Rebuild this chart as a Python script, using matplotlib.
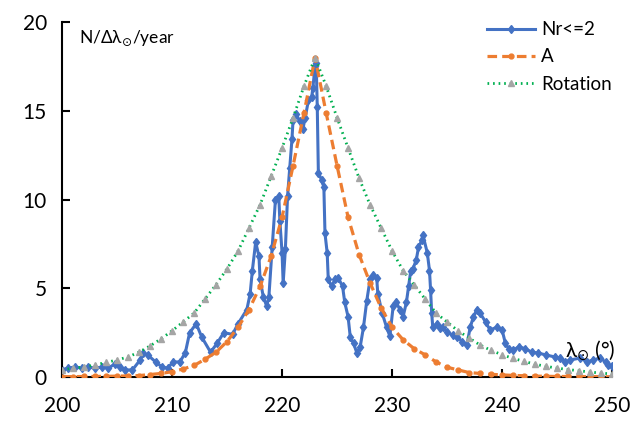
import matplotlib
matplotlib.use("Agg")
import matplotlib.pyplot as plt

plt.rcParams['font.family'] = ['Lato', 'DejaVu Sans']

# --- data ---
nr_lam = [200.0, 200.5, 201.2, 201.8, 202.4, 203.0, 203.6, 204.2, 204.8, 205.3,
          205.7, 206.4, 207.1, 207.4, 207.8, 208.5, 209.1, 209.6, 210.1, 210.7,
          211.2, 211.6, 212.2, 212.7, 213.5, 214.1, 214.7, 215.5, 216.0, 216.8,
          217.1, 217.3, 217.6, 217.9, 218.0, 218.3, 218.6, 218.8, 219.1, 219.4,
          219.7, 219.8, 220.0, 220.1, 220.3, 220.5, 220.7, 220.9, 221.0, 221.3,
          221.6, 221.9, 222.1, 222.4, 222.7, 222.8, 223.0, 223.1, 223.2, 223.3,
          223.6, 223.8, 223.9, 224.1, 224.2, 224.5, 224.8, 225.1, 225.5, 225.7,
          226.0, 226.2, 226.5, 226.8, 227.1, 227.4, 227.7, 228.0, 228.3, 228.6,
          228.7, 229.1, 229.5, 229.8, 230.1, 230.4, 230.7, 231.0, 231.3, 231.5,
          231.7, 231.9, 232.2, 232.4, 232.7, 232.8, 233.2, 233.4, 233.5, 233.6,
          233.7, 234.1, 234.4, 234.6, 235.0, 235.5, 235.9, 236.4, 236.8, 237.1,
          237.4, 237.7, 238.0, 238.5, 238.9, 239.5, 240.0, 240.3, 240.6, 241.0,
          241.5, 242.1, 242.7, 243.3, 244.0, 244.8, 245.3, 245.7, 246.2, 247.1,
          247.7, 248.3, 248.9, 249.4, 249.6, 250.0]
nr_val = [0.40, 0.50, 0.56, 0.50, 0.56, 0.50, 0.56, 0.50, 0.73, 0.56,
          0.40, 0.40, 0.96, 1.35, 1.24, 0.85, 0.56, 0.50, 0.85, 0.85,
          1.35, 2.50, 3.00, 2.25, 1.40, 1.90, 2.50, 2.40, 3.00, 3.80,
          4.70, 6.00, 7.60, 6.80, 5.50, 4.50, 4.00, 4.50, 7.30, 10.0,
          10.2, 8.80, 7.00, 5.30, 7.20, 10.2, 11.8, 13.4, 14.5, 14.8,
          14.4, 14.0, 14.6, 15.6, 15.8, 16.3, 17.5, 17.7, 15.2, 11.5,
          11.1, 10.7, 8.10, 7.00, 5.50, 5.10, 5.50, 5.60, 5.10, 4.20,
          3.40, 2.25, 1.90, 1.35, 1.70, 2.80, 4.30, 5.50, 5.75, 5.60,
          4.70, 3.60, 2.80, 2.30, 4.00, 4.20, 3.80, 3.40, 4.20, 5.10,
          6.00, 6.10, 6.60, 7.30, 7.70, 8.00, 7.00, 6.00, 4.90, 3.60,
          2.80, 3.00, 2.75, 2.80, 2.55, 2.35, 2.25, 2.00, 1.80, 2.80,
          3.40, 3.80, 3.60, 3.10, 2.65, 2.80, 2.65, 1.90, 1.60, 1.50,
          1.70, 1.60, 1.40, 1.35, 1.24, 1.13, 1.07, 0.85, 0.96, 1.07,
          0.85, 0.96, 1.07, 0.85, 0.68, 0.60]

lam_deg = list(range(200, 251))
a_val = [0.02, 0.02, 0.03, 0.03, 0.04, 0.05, 0.06, 0.08, 0.14, 0.20,
         0.30, 0.45, 0.65, 1.00, 1.40, 2.00, 2.80, 3.80, 5.10, 6.80,
         9.00, 11.9, 14.9, 18.0, 14.9, 11.9, 9.00, 6.90, 5.30, 3.90,
         2.80, 2.10, 1.60, 1.25, 0.85, 0.55, 0.40, 0.25, 0.20, 0.15,
         0.12, 0.09, 0.07, 0.05, 0.04, 0.03, 0.03, 0.02, 0.02, 0.02,
         0.01]
rot_val = [0.40, 0.50, 0.56, 0.68, 0.82, 0.96, 1.13, 1.40, 1.75, 2.15,
           2.60, 3.10, 3.60, 4.40, 5.20, 6.10, 7.10, 8.40, 9.70, 11.3,
           12.9, 14.6, 16.4, 18.0, 16.4, 14.6, 12.9, 11.2, 9.70, 8.40,
           7.10, 6.00, 5.20, 4.40, 3.60, 3.10, 2.60, 2.20, 1.80, 1.50,
           1.25, 1.05, 0.88, 0.72, 0.60, 0.50, 0.42, 0.35, 0.28, 0.22,
           0.17]

fig = plt.figure(figsize=(6.33, 4.21), dpi=100)
ax = fig.add_axes([0.098, 0.1045, 0.869, 0.8432])

ax.plot(nr_lam, nr_val, color='#4472C4', lw=2.2, marker='d', ms=4.5,
        label='Nr<=2', zorder=2)
ax.plot(lam_deg, a_val, color='#ED7D31', lw=2.3, ls=(0, (3, 1.6)),
        marker='o', ms=3.5, label='A', zorder=3)
ax.plot(lam_deg, rot_val, color='#00B050', lw=2.0, ls=(0, (0.6, 1.4)),
        marker='^', ms=5, mfc='#A5A5A5', mec='#A5A5A5', label='Rotation', zorder=4)

ax.set_xlim(200, 250)
ax.set_ylim(0, 20)
ax.set_xticks([200, 210, 220, 230, 240, 250])
ax.set_yticks([0, 5, 10, 15, 20])

for s in ['top', 'right']:
    ax.spines[s].set_visible(False)
for s in ['left', 'bottom']:
    ax.spines[s].set_linewidth(1.5)
ax.tick_params(direction='in', length=6, width=1.5, labelsize=15)
ax.tick_params(axis='y', pad=11)
ax.tick_params(axis='x', pad=14)

ax.text(0.03, 0.955, r'N/Δλ$_{\odot}$/year', transform=ax.transAxes,
        fontsize=12.5, va='center', ha='left')
ax.text(248.0, 1.45, r'λ$_{\odot}$ (°)', fontsize=15, ha='center', va='center')

fig.legend(loc='upper left', bbox_to_anchor=(0.742, 0.99), frameon=False,
           fontsize=13.5, handlelength=2.6, handletextpad=0.3,
           labelspacing=0.55)

fig.savefig('out.png', dpi=100)
